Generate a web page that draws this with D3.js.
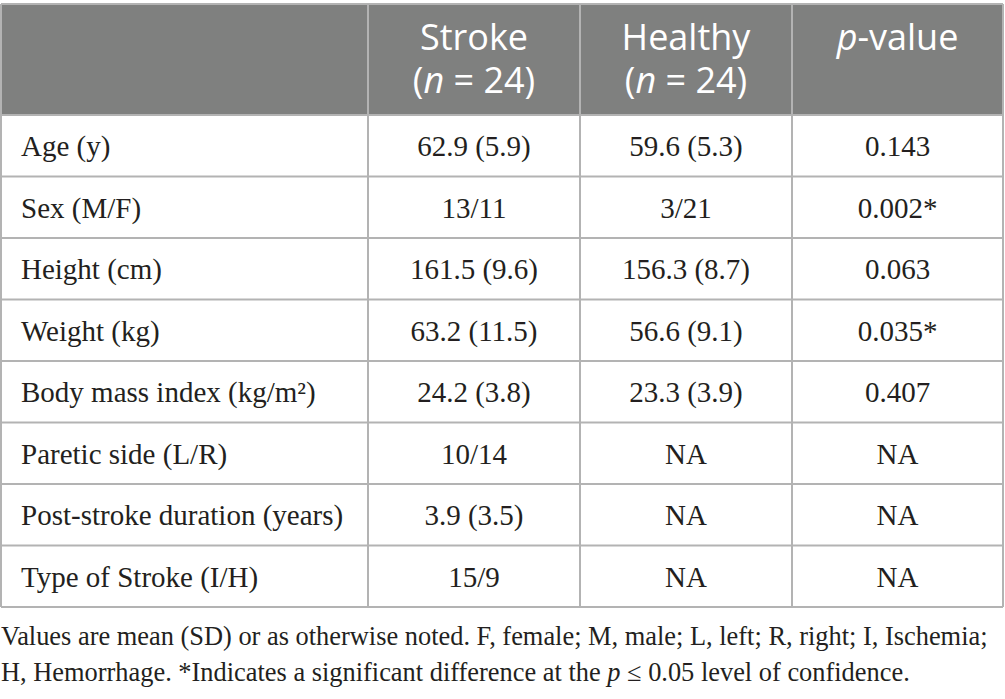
<!DOCTYPE html>
<html>
<head>
<meta charset="utf-8">
<script src="https://cdn.jsdelivr.net/npm/d3@7"></script>
<style>
  body { margin: 0; background: #fff; }
  .hdr { font-family: "Open Sans", sans-serif; font-size: 36px; fill: #fff; }
  .cell { font-family: "Liberation Serif", serif; font-size: 29px; fill: #231f20; }
  .note { font-family: "Liberation Serif", serif; font-size: 26.4px; fill: #231f20; }
</style>
</head>
<body>
<div id="chart"></div>
<script>
// table data
var groups = ["Stroke", "Healthy"];
var groupN = [24, 24];
var rowLabels = ["Age (y)", "Sex (M/F)", "Height (cm)", "Weight (kg)",
  "Body mass index (kg/m\u00b2)", "Paretic side (L/R)",
  "Post-stroke duration (years)", "Type of Stroke (I/H)"];
var strokeVals = ["62.9 (5.9)", "13/11", "161.5 (9.6)", "63.2 (11.5)",
  "24.2 (3.8)", "10/14", "3.9 (3.5)", "15/9"];
var healthyVals = ["59.6 (5.3)", "3/21", "156.3 (8.7)", "56.6 (9.1)",
  "23.3 (3.9)", "NA", "NA", "NA"];
var pVals = ["0.143", "0.002*", "0.063", "0.035*", "0.407", "NA", "NA", "NA"];
var noteLine1 = "Values are mean (SD) or as otherwise noted. F, female; M, male; L, left; R, right; I, Ischemia;";
var noteLine2 = ["H, Hemorrhage. *Indicates a significant difference at the ", "p", " \u2264 0.05 level of confidence."];

var width = 1005, height = 699;
var tableTop = 4, headH = 111, bodyBottom = 607;
var colEdges = [1, 368, 580, 792, 1003];

var svg = d3.select("#chart").append("svg")
    .attr("width", width)
    .attr("height", height);

// row scale for the body
var y = d3.scaleBand()
    .domain(d3.range(rowLabels.length))
    .range([tableTop + headH, bodyBottom]);

// header background
svg.append("rect")
    .attr("x", colEdges[0])
    .attr("y", tableTop)
    .attr("width", colEdges[4] - colEdges[0])
    .attr("height", headH)
    .style("fill", "#7f807f");

// grid lines
var lineColor = "#b3b3b3";
svg.selectAll(".hline")
    .data([tableTop].concat(d3.range(rowLabels.length).map(function(i) { return y(i); })).concat([bodyBottom]))
  .enter().append("line")
    .attr("class", "hline")
    .attr("x1", colEdges[0]).attr("x2", colEdges[4])
    .attr("y1", function(d) { return d; }).attr("y2", function(d) { return d; })
    .style("stroke", lineColor)
    .style("stroke-width", 2);

svg.selectAll(".vline")
    .data(colEdges)
  .enter().append("line")
    .attr("class", "vline")
    .attr("x1", function(d) { return d; }).attr("x2", function(d) { return d; })
    .attr("y1", tableTop).attr("y2", bodyBottom)
    .style("stroke", lineColor)
    .style("stroke-width", 2);

function colMid(c) { return (colEdges[c] + colEdges[c + 1]) / 2; }

// header text
groups.forEach(function(g, i) {
  var t = svg.append("text").attr("class", "hdr")
      .attr("text-anchor", "middle");
  t.append("tspan").attr("x", colMid(i + 1)).attr("y", tableTop + 46).text(g);
  var l2 = t.append("tspan").attr("x", colMid(i + 1)).attr("y", tableTop + 89);
  l2.append("tspan").text("(");
  l2.append("tspan").style("font-style", "italic").text("n");
  l2.append("tspan").text(" = " + groupN[i] + ")");
});
var ph = svg.append("text").attr("class", "hdr")
    .attr("text-anchor", "middle")
    .attr("x", colMid(3)).attr("y", tableTop + 46);
ph.append("tspan").style("font-style", "italic").text("p");
ph.append("tspan").text("-value");

// body cells
var rows = svg.selectAll(".row")
    .data(rowLabels)
  .enter().append("g")
    .attr("class", "row")
    .attr("transform", function(d, i) { return "translate(0," + (y(i) + 41) + ")"; });

rows.append("text").attr("class", "cell")
    .attr("x", 21)
    .text(function(d) { return d; });

[strokeVals, healthyVals, pVals].forEach(function(vals, c) {
  rows.append("text").attr("class", "cell")
      .attr("text-anchor", "middle")
      .attr("x", colMid(c + 1))
      .text(function(d, i) { return vals[i]; });
});

// footnote
svg.append("text").attr("class", "note")
    .attr("x", 1).attr("y", 645)
    .text(noteLine1);
var n2 = svg.append("text").attr("class", "note")
    .attr("x", 1).attr("y", 681);
noteLine2.forEach(function(s, i) {
  n2.append("tspan").style("font-style", i == 1 ? "italic" : "normal").text(s);
});
</script>
</body>
</html>
